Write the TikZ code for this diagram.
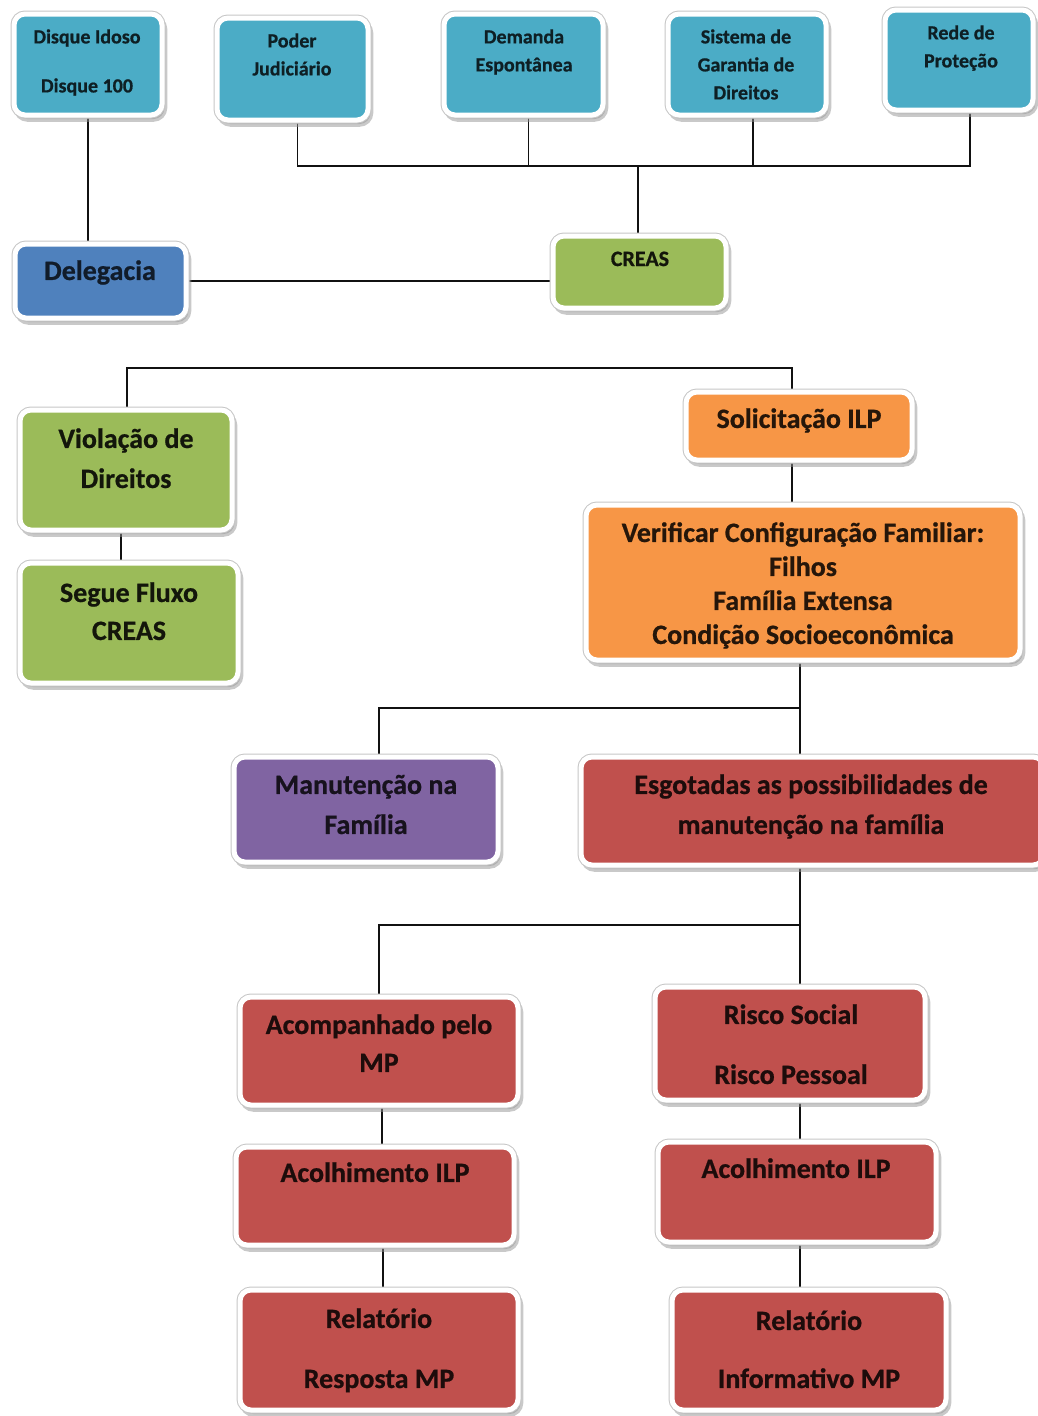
\documentclass[tikz,border=0pt]{standalone}
\usepackage{fontspec}
\setmainfont{Carlito}[BoldFeatures={FakeBold=0.7}]
\usetikzlibrary{shadows,fit,backgrounds}

\definecolor{aqua}{HTML}{4BACC6}
\definecolor{steel}{HTML}{4F81BD}
\definecolor{leaf}{HTML}{9BBB59}
\definecolor{tang}{HTML}{F79646}
\definecolor{plum}{HTML}{8064A2}
\definecolor{brick}{HTML}{C0504D}
\definecolor{wire}{HTML}{111111}

\tikzset{
  panel/.style={rounded corners=11pt, inner sep=0pt, fill=#1,
    drop shadow={shadow xshift=2.5pt, shadow yshift=-4pt, fill=black!42, draw=black!42, line width=5.5pt},
    preaction={draw=black!22, line width=7pt},
    draw=white, line width=5pt},
  % label whose visual middle sits on the given point
  lbl/.style={font=\fontsize{#1}{#1}\selectfont\bfseries, inner sep=0pt, anchor=base,
    yshift={-0.32*#1*1pt}},
  link/.style={draw=wire, line width=1.6pt},
}

\begin{document}
\begin{tikzpicture}[x=1pt,y=-1pt]
\useasboundingbox (0,0) rectangle (1038,1416);

% ---- panels ----
\node[panel=aqua,  fit={(14,14) (162,115)}]   (disque) {};
\node[panel=aqua,  fit={(217,18) (368,120)}]  (poder) {};
\node[panel=aqua,  fit={(444,14) (603,115)}]  (demanda) {};
\node[panel=aqua,  fit={(668,14) (826,115)}]  (sistema) {};
\node[panel=aqua,  fit={(885,10) (1033,110)}] (rede) {};
\node[panel=steel, fit={(15,244) (186,318)}]  (delegacia) {};
\node[panel=leaf,  fit={(553,236) (726,308)}] (creas) {};
\node[panel=leaf,  fit={(20,410) (232,530)}]  (violacao) {};
\node[panel=tang,  fit={(686,392) (912,460)}] (solic) {};
\node[panel=leaf,  fit={(20,563) (238,683)}]  (segue) {};
\node[panel=tang,  fit={(586,505) (1020,660)}] (verificar) {};
\node[panel=plum,  fit={(234,757) (498,862)}] (manut) {};
\node[panel=brick, fit={(581,757) (1044,865)}] (esgot) {};
\node[panel=brick, fit={(240,997) (518,1105)}] (acomp) {};
\node[panel=brick, fit={(655,987) (925,1100)}] (risco) {};
\node[panel=brick, fit={(236,1147) (514,1245)}] (acolhA) {};
\node[panel=brick, fit={(658,1142) (936,1242)}] (acolhB) {};
\node[panel=brick, fit={(240,1290) (518,1410)}] (relA) {};
\node[panel=brick, fit={(672,1290) (946,1410)}] (relB) {};

% ---- junction points ----
\coordinate (busA) at (638,166);
\coordinate (busB) at (127,368);
\coordinate (busC) at (800,708);
\coordinate (busCl) at (379,708);
\coordinate (busD) at (800,925);
\coordinate (busDl) at (379,925);
\coordinate (colA) at (382,1125);
\coordinate (colB) at (383,1268);

% ---- connectors, behind the panels ----
\begin{scope}[on background layer]
\fill[white] (0,0) rectangle (1038,1416);
\draw[link] (disque.south) -- (disque.south |- delegacia.north);
\draw[link] ([xshift=5pt]poder.south) |- (busA) -| ([xshift=11pt]rede.south);
\draw[link] ([xshift=5pt]demanda.south) -- ([xshift=5pt]demanda.south |- busA);
\draw[link] ([xshift=6pt]sistema.south) -- ([xshift=6pt]sistema.south |- busA);
\draw[link] (busA) -- (busA |- creas.north);
\draw[link] (delegacia.east) -- (delegacia.east -| creas.west);
\draw[link] (busB |- violacao.north) -- (busB) -| ([xshift=-7pt]solic.north);
\draw[link] ([xshift=-5pt]violacao.south) -- ([xshift=-5pt]violacao.south |- segue.north);
\draw[link] ([xshift=-7pt]solic.south) -- ([xshift=-7pt]solic.south |- verificar.north);
\draw[link] (busC |- verificar.south) -- (busC |- esgot.north);
\draw[link] (busC) -- (busCl) -- (busCl |- manut.north);
\draw[link] (busD |- esgot.south) -- (busD |- risco.north);
\draw[link] (busD) -- (busDl) -- (busDl |- acomp.north);
\draw[link] (colA |- acomp.south) -- (colA |- acolhA.north);
\draw[link] (colB |- acolhA.south) -- (colB |- relA.north);
\draw[link] (busD |- risco.south) -- (busD |- acolhB.north);
\draw[link] (busD |- acolhB.south) -- (busD |- relB.north);
\end{scope}

% ---- labels ----
\begin{scope}[text=aqua!18!black]
\node[lbl=20] (disque-a) at (87,37) {Disque Idoso};
\node[lbl=20] (disque-b) at (87,86) {Disque 100};
\node[lbl=20] (poder-a) at (292,41) {Poder};
\node[lbl=20] (poder-b) at (292,69) {Judiciário};
\node[lbl=20] (demanda-a) at (524,37) {Demanda};
\node[lbl=20] (demanda-b) at (524,65) {Espontânea};
\node[lbl=20] (sistema-a) at (746,37) {Sistema de};
\node[lbl=20] (sistema-b) at (746,65) {Garantia de};
\node[lbl=20] (sistema-c) at (746,93) {Direitos};
\node[lbl=20] (rede-a) at (961,33) {Rede de};
\node[lbl=20] (rede-b) at (961,61) {Proteção};
\end{scope}
\node[lbl=28, text=steel!22!black] (delegacia-a) at (100,271) {Delegacia};
\begin{scope}[text=leaf!12!black]
\node[lbl=22] (creas-a) at (640,259) {CREAS};
\node[lbl=28] (violacao-a) at (126,439) {Violação de};
\node[lbl=28] (violacao-b) at (126,479) {Direitos};
\node[lbl=28] (segue-a) at (129,593) {Segue Fluxo};
\node[lbl=28] (segue-b) at (129,631) {CREAS};
\end{scope}
\begin{scope}[text=tang!15!black]
\node[lbl=28] (solic-a) at (799,419) {Solicitação ILP};
\node[lbl=28] (verificar-a) at (803,533) {Verificar Configuração Familiar:};
\node[lbl=28] (verificar-b) at (803,567) {Filhos};
\node[lbl=28] (verificar-c) at (803,601) {Família Extensa};
\node[lbl=28] (verificar-d) at (803,635) {Condição Socioeconômica};
\end{scope}
\node[lbl=28, text=plum!18!black] (manut-a) at (366,785) {Manutenção na};
\node[lbl=28, text=plum!18!black] (manut-b) at (366,825) {Família};
\begin{scope}[text=brick!15!black]
\node[lbl=28] (esgot-a) at (811,785) {Esgotadas as possibilidades de};
\node[lbl=28] (esgot-b) at (811,825) {manutenção na família};
\node[lbl=28] (acomp-a) at (379,1025) {Acompanhado pelo};
\node[lbl=28] (acomp-b) at (379,1063) {MP};
\node[lbl=28] (risco-a) at (791,1015) {Risco Social};
\node[lbl=28] (risco-b) at (791,1075) {Risco Pessoal};
\node[lbl=28] (acolhA-a) at (375,1173) {Acolhimento ILP};
\node[lbl=28] (acolhB-a) at (796,1169) {Acolhimento ILP};
\node[lbl=28] (relA-a) at (379,1319) {Relatório};
\node[lbl=28] (relA-b) at (379,1379) {Resposta MP};
\node[lbl=28] (relB-a) at (809,1321) {Relatório};
\node[lbl=28] (relB-b) at (809,1379) {Informativo MP};
\end{scope}
\end{tikzpicture}
\end{document}
